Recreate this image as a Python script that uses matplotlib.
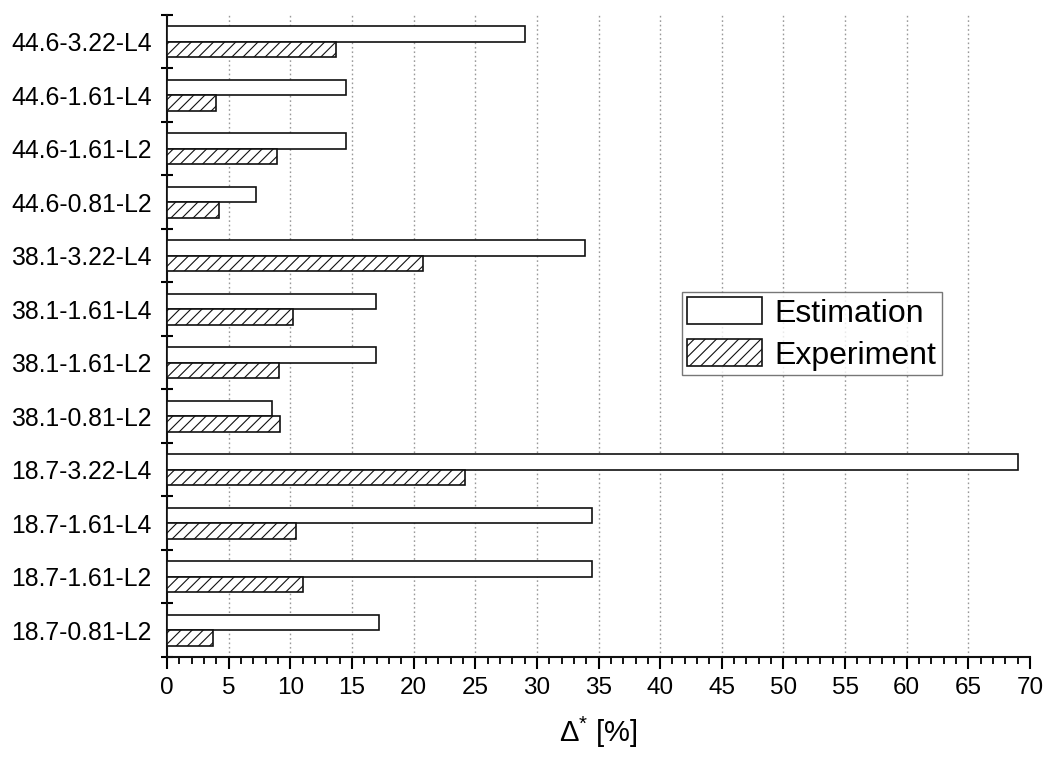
import matplotlib
matplotlib.use("Agg")
import matplotlib.pyplot as plt
import numpy as np

plt.rcParams['font.family'] = ['Liberation Sans', 'DejaVu Sans']
plt.rcParams['mathtext.fontset'] = 'custom'
plt.rcParams['mathtext.rm'] = 'Liberation Sans'
plt.rcParams['mathtext.it'] = 'Liberation Sans'
plt.rcParams['hatch.linewidth'] = 0.8
plt.rcParams['hatch.color'] = '#333333'

# Categories listed bottom to top
categories = ['18.7-0.81-L2', '18.7-1.61-L2', '18.7-1.61-L4', '18.7-3.22-L4',
              '38.1-0.81-L2', '38.1-1.61-L2', '38.1-1.61-L4', '38.1-3.22-L4',
              '44.6-0.81-L2', '44.6-1.61-L2', '44.6-1.61-L4', '44.6-3.22-L4']
estimation = [17.2, 34.5, 34.5, 69.0,
              8.5, 16.95, 16.95, 33.9,
              7.25, 14.5, 14.5, 29.0]
experiment = [3.7, 11.0, 10.5, 24.2,
              9.15, 9.05, 10.2, 20.8,
              4.25, 8.9, 4.0, 13.7]
x_ticks = list(range(0, 71, 5))

fig = plt.figure(figsize=(10.46, 7.57), dpi=100)
ax = fig.add_axes([0.1597, 0.1321, 0.8250, 0.8481])

n = len(categories)
centers = np.arange(n) + 0.5
h = 0.29
ax.barh(centers + h / 2, estimation, height=h, color='white', edgecolor='#111111',
        linewidth=1.2, label='Estimation', zorder=3)
ax.barh(centers - h / 2, experiment, height=h, color='white', edgecolor='#111111',
        linewidth=1.2, hatch='///', label='Experiment', zorder=3)

ax.set_xlim(0, 70)
ax.set_ylim(0, n)
ax.set_xticks(x_ticks)
ax.set_xticks(np.arange(0, 71, 1), minor=True)
ax.set_xticklabels([str(t) for t in x_ticks], fontsize=17.5)

ax.set_yticks(np.arange(0, n + 1))
ax.set_yticklabels([])
ax.set_yticks(centers, minor=True)
ax.set_yticklabels(categories, minor=True, fontsize=17.8)

ax.tick_params(axis='x', which='major', direction='out', length=8.5, width=1.5, pad=6)
ax.tick_params(axis='x', which='minor', direction='out', length=5, width=1.3)
ax.tick_params(axis='y', which='major', direction='inout', length=9, width=1.5)
ax.tick_params(axis='y', which='minor', length=0, pad=11)

for s in ['top', 'right']:
    ax.spines[s].set_visible(False)
for s in ['left', 'bottom']:
    ax.spines[s].set_linewidth(1.5)
    ax.spines[s].set_color('#111111')

for t in x_ticks[1:-1]:
    ax.axvline(t, color='#999999', linestyle=(0, (1.2, 2.0)), linewidth=1.0, zorder=1)

ax.set_xlabel(r'$\Delta^{*}$ [%]', fontsize=21, labelpad=11)

leg = ax.legend(loc='upper left', bbox_to_anchor=(0.597, 0.5685), borderaxespad=0,
                fontsize=23, frameon=True, fancybox=False, edgecolor='#555555',
                handlelength=2.35, handleheight=0.95, handletextpad=0.4,
                labelspacing=0.32, borderpad=0.15)
leg.get_frame().set_linewidth(1.0)

fig.savefig('out.png', dpi=100, facecolor='white')
